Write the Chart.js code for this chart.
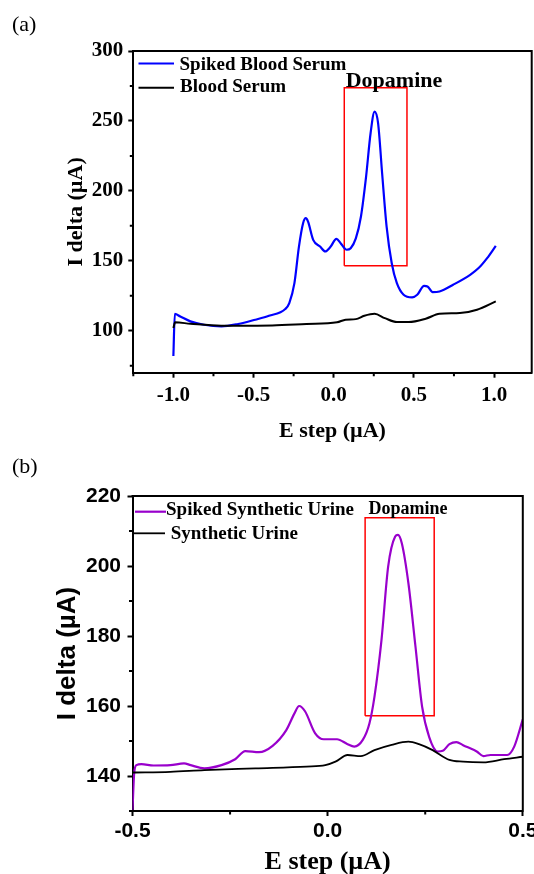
<!DOCTYPE html>
<html>
<head>
<meta charset="utf-8">
<script src="https://cdn.jsdelivr.net/npm/chart.js@4.4.1/dist/chart.umd.min.js"></script>
<style>
html,body{margin:0;padding:0;background:#fff;overflow:hidden;width:534px;height:874px;}
#wa{position:absolute;left:0;top:0;width:534px;height:446px;}
#wb{position:absolute;left:0;top:446px;width:534px;height:434px;}
.pl{position:absolute;font-family:"Liberation Serif","Times New Roman",serif;font-size:22px;line-height:22px;color:#000;}
</style>
</head>
<body>
<div id="wa"><canvas id="ca" width="534" height="446"></canvas></div>
<div id="wb"><canvas id="cb" width="534" height="434"></canvas></div>
<div class="pl" style="left:12px;top:13px">(a)</div>
<div class="pl" style="left:12px;top:455px">(b)</div>
<script>
// ---------- Panel (a): blood serum ----------
const spikedSerumE = [-1.0,-0.991,-0.957,-0.894,-0.809,-0.70,-0.596,-0.489,-0.404,-0.302,-0.277,-0.245,-0.217,-0.191,-0.174,-0.16,-0.128,-0.085,-0.053,-0.021,0.017,0.043,0.081,0.106,0.138,0.170,0.202,0.230,0.255,0.277,0.302,0.33,0.362,0.394,0.436,0.489,0.521,0.564,0.585,0.617,0.66,0.745,0.851,0.904,0.957,1.011];
const spikedSerumI = [82,112,110.2,106.7,104.3,103.1,104.8,107.9,110.7,115.5,119.8,134,160,176.9,180.5,178,165,160.2,156.7,159.8,165.7,162.6,157.9,159,166,181.7,210.2,241.2,256.7,248.3,212.6,174.5,148.3,134,125.7,123.8,125.7,132.1,131.7,127.6,128.1,132.9,140,144.8,151.9,160.7];
const serumE = [-1.0,-0.989,-0.894,-0.702,-0.383,-0.17,0.021,0.074,0.138,0.191,0.255,0.319,0.394,0.468,0.574,0.66,0.787,0.894,1.011];
const serumI = [102,106,105,103.6,103.8,104.8,106,107.9,108.3,110.7,112.1,109,106.2,106.2,108.6,112.1,112.6,115,121];
const boxA = [0.066, 0.457, 146.4, 273.8];           // x0, x1, y0, y1
const xTicksA = [-1.25,-1,-0.75,-0.5,-0.25,0,0.25,0.5,0.75,1];
const xLabelsA = [-1,-0.5,0,0.5,1];
const yTicksA = [75,100,125,150,175,200,225,250,275,300];
const yLabelsA = [100,150,200,250,300];

// ---------- Panel (b): synthetic urine ----------
const spikedUrineE = [-0.5,-0.4957,-0.49,-0.477,-0.446,-0.403,-0.368,-0.351,-0.316,-0.272,-0.237,-0.211,-0.176,-0.141,-0.106,-0.085,-0.073,-0.058,-0.032,-0.01,0.024,0.051,0.068,0.09,0.107,0.12,0.138,0.155,0.173,0.18,0.19,0.207,0.225,0.242,0.26,0.282,0.295,0.312,0.33,0.347,0.382,0.399,0.417,0.46,0.478,0.5];
const spikedUrineI = [130.3,140.8,143.1,143.4,143,143.1,143.6,143.1,142.2,143.1,144.8,147.1,146.8,148.6,153.1,157.9,160,158.5,152.2,150.5,150.5,149.1,148.4,150.3,155,162.7,178.9,199.8,208.4,208.9,206.5,195,177,159.8,151.2,147,147.2,149.1,149.7,148.8,147,145.7,146,146,148.4,156.2];
const urineE = [-0.5,-0.403,-0.316,-0.185,-0.054,-0.006,0.02,0.051,0.085,0.12,0.164,0.207,0.234,0.269,0.312,0.347,0.399,0.452,0.5];
const urineI = [141,141.2,141.7,142.2,142.7,143.1,144.1,146,145.7,147.4,148.9,149.8,149.1,147.4,144.6,144.1,143.9,144.8,145.5];
const boxB = [0.096, 0.273, 157.2, 213.8];
const xTicksB = [-0.5,-0.25,0,0.25,0.5];
const xLabelsB = [-0.5,0,0.5];
const yTicksB = [130,140,150,160,170,180,190,200,210,220];
const yLabelsB = [140,160,180,200,220];

const tagText = 'Dopamine';

const SERIF = "'Liberation Serif','Times New Roman',serif";
const SANS = "'Liberation Sans',Arial,sans-serif";

function zip(xs, ys){ return xs.map((x,i)=>({x:x, y:ys[i]})); }
function rectPts(b){ return [{x:b[0],y:b[2]},{x:b[1],y:b[2]},{x:b[1],y:b[3]},{x:b[0],y:b[3]},{x:b[0],y:b[2]}]; }
function has(arr, v){ return arr.some(a => Math.abs(a - v) < 1e-9); }

const overlay = {
  id: 'overlay',
  afterDatasetsDraw(chart, args, o) {
    const ctx = chart.ctx, a = chart.chartArea;
    const xs = chart.scales.x, ys = chart.scales.y;
    ctx.save();
    ctx.strokeStyle = '#000'; ctx.lineWidth = 2; ctx.lineCap = 'square';
    ctx.beginPath(); ctx.moveTo(a.left, a.top); ctx.lineTo(a.right, a.top); ctx.lineTo(a.right, a.bottom); ctx.stroke();
    ctx.lineCap = 'butt';
    // minor (unlabelled) ticks, shorter than the labelled ones
    ctx.lineWidth = 2;
    ctx.beginPath();
    xs.ticks.forEach(t => { if (!has(o.xLabels, t.value)) { const p = xs.getPixelForValue(t.value); ctx.moveTo(p, a.bottom); ctx.lineTo(p, a.bottom + 3.5); } });
    ys.ticks.forEach(t => { if (!has(o.yLabels, t.value)) { const p = ys.getPixelForValue(t.value); ctx.moveTo(a.left, p); ctx.lineTo(a.left - 3.5, p); } });
    ctx.stroke();
    o.legend.forEach(it => {
      const ds = chart.data.datasets[it.ds];
      ctx.strokeStyle = ds.borderColor; ctx.lineWidth = ds.borderWidth;
      ctx.beginPath(); ctx.moveTo(it.x0, it.y); ctx.lineTo(it.x1, it.y); ctx.stroke();
      ctx.fillStyle = '#000'; ctx.font = o.legendFont; ctx.textAlign = 'left'; ctx.textBaseline = 'alphabetic';
      ctx.fillText(ds.label, it.tx, it.ty);
    });
    ctx.fillStyle = '#000'; ctx.font = o.tagFont; ctx.textAlign = 'left'; ctx.textBaseline = 'alphabetic';
    ctx.fillText(o.tag, xs.getPixelForValue(o.box[0]) + o.dx, ys.getPixelForValue(o.box[3]) + o.dy);
    ctx.restore();
  }
};

function makeScales(cfg){
  return {
    x: {
      type: 'linear', min: cfg.xmin, max: cfg.xmax,
      afterBuildTicks: s => { s.ticks = cfg.xTicks.map(v => ({value: v})); },
      afterFit: s => { s.height = cfg.xh; s.paddingLeft = 0; s.paddingRight = 0; },
      grid: {drawOnChartArea: false, drawTicks: true, tickLength: 5, tickWidth: 2,
             tickColor: c => (c.tick && has(cfg.xLabels, c.tick.value)) ? '#000' : 'rgba(0,0,0,0)'},
      border: {display: true, color: '#000', width: 2},
      ticks: {autoSkip: false, maxRotation: 0, padding: cfg.xpad, color: '#000',
              font: {family: cfg.tickFam, size: 21, weight: 'bold'},
              callback: v => has(cfg.xLabels, v) ? Number(v).toFixed(1) : ''},
      title: {display: true, text: 'E step (µA)', color: '#000',
              font: {family: SERIF, size: cfg.xtSize, weight: 'bold'}, padding: {top: 0, bottom: cfg.xtPad}}
    },
    y: {
      type: 'linear', min: cfg.ymin, max: cfg.ymax,
      afterBuildTicks: s => { s.ticks = cfg.yTicks.map(v => ({value: v})); },
      afterFit: s => { s.width = cfg.yw; s.paddingTop = 0; s.paddingBottom = 0; },
      grid: {drawOnChartArea: false, drawTicks: true, tickLength: 5, tickWidth: 2,
             tickColor: c => (c.tick && has(cfg.yLabels, c.tick.value)) ? '#000' : 'rgba(0,0,0,0)'},
      border: {display: true, color: '#000', width: 2},
      ticks: {autoSkip: false, padding: cfg.ypad, color: '#000',
              font: {family: cfg.tickFam, size: 21, weight: 'bold'},
              callback: v => has(cfg.yLabels, v) ? String(v) : ''},
      title: {display: true, text: 'I delta (µA)', color: '#000',
              font: {family: cfg.ytFam, size: cfg.ytSize, weight: 'bold'}, padding: {top: cfg.ytPad, bottom: 0}}
    }
  };
}

const common = {
  responsive: false, animation: false, devicePixelRatio: 1,
  elements: {point: {radius: 0}, line: {cubicInterpolationMode: 'monotone'}},
};

new Chart(document.getElementById('ca'), {
  type: 'line',
  data: {datasets: [
    {label: 'Blood Serum', data: zip(serumE, serumI), borderColor: '#000000', borderWidth: 2},
    {label: 'Spiked Blood Serum', data: zip(spikedSerumE, spikedSerumI), borderColor: '#0000ff', borderWidth: 2.2},
    {label: 'box', data: rectPts(boxA), borderColor: '#ff0000', borderWidth: 1.5, tension: 0, cubicInterpolationMode: 'default'}
  ]},
  options: Object.assign({}, common, {
    layout: {padding: {left: 0, right: 2.3, top: 51, bottom: 0}},
    plugins: {legend: {display: false}, tooltip: {enabled: false},
      overlay: {
        xLabels: xLabelsA, yLabels: yLabelsA,
        legendFont: 'bold 19px ' + SERIF,
        legend: [
          {ds: 1, x0: 138.5, x1: 174, y: 63.5, tx: 179.5, ty: 70},
          {ds: 0, x0: 138.5, x1: 174, y: 87.7, tx: 180, ty: 92.3}
        ],
        tag: tagText, tagFont: 'bold 22px ' + SERIF, box: boxA, dx: 1.4, dy: -1
      }},
    scales: makeScales({xmin: -1.25, xmax: 1.235, xTicks: xTicksA, xLabels: xLabelsA, xh: 73.3, xpad: 5,
      tickFam: SERIF, xtSize: 22, xtPad: 1,
      ymin: 70, ymax: 300, yTicks: yTicksA, yLabels: yLabelsA, yw: 133.3, ypad: 5,
      ytFam: SERIF, ytSize: 22, ytPad: 62.8})
  }),
  plugins: [overlay]
});

new Chart(document.getElementById('cb'), {
  type: 'line',
  data: {datasets: [
    {label: 'Synthetic Urine', data: zip(urineE, urineI), borderColor: '#000000', borderWidth: 1.8},
    {label: 'Spiked Synthetic Urine', data: zip(spikedUrineE, spikedUrineI), borderColor: '#9900cc', borderWidth: 2.2},
    {label: 'box', data: rectPts(boxB), borderColor: '#ff0000', borderWidth: 1.5, tension: 0, cubicInterpolationMode: 'default'}
  ]},
  options: Object.assign({}, common, {
    layout: {padding: {left: 0, right: 11.2, top: 50, bottom: 0}},
    plugins: {legend: {display: false}, tooltip: {enabled: false},
      overlay: {
        xLabels: xLabelsB, yLabels: yLabelsB,
        legendFont: 'bold 19px ' + SERIF,
        legend: [
          {ds: 1, x0: 135, x1: 166, y: 65.7, tx: 166, ty: 69},
          {ds: 0, x0: 133.3, x1: 165, y: 87.3, tx: 170.7, ty: 93.3}
        ],
        tag: tagText, tagFont: 'bold 18px ' + SERIF, box: boxB, dx: 3.3, dy: -4
      }},
    scales: makeScales({xmin: -0.5, xmax: 0.5, xTicks: xTicksB, xLabels: xLabelsB, xh: 69, xpad: 2.5,
      tickFam: SANS, xtSize: 26, xtPad: 2.4,
      ymin: 130, ymax: 220, yTicks: yTicksB, yLabels: yLabelsB, yw: 132.5, ypad: 6.5,
      ytFam: SANS, ytSize: 26, ytPad: 52.4})
  }),
  plugins: [overlay]
});
</script>
</body>
</html>
